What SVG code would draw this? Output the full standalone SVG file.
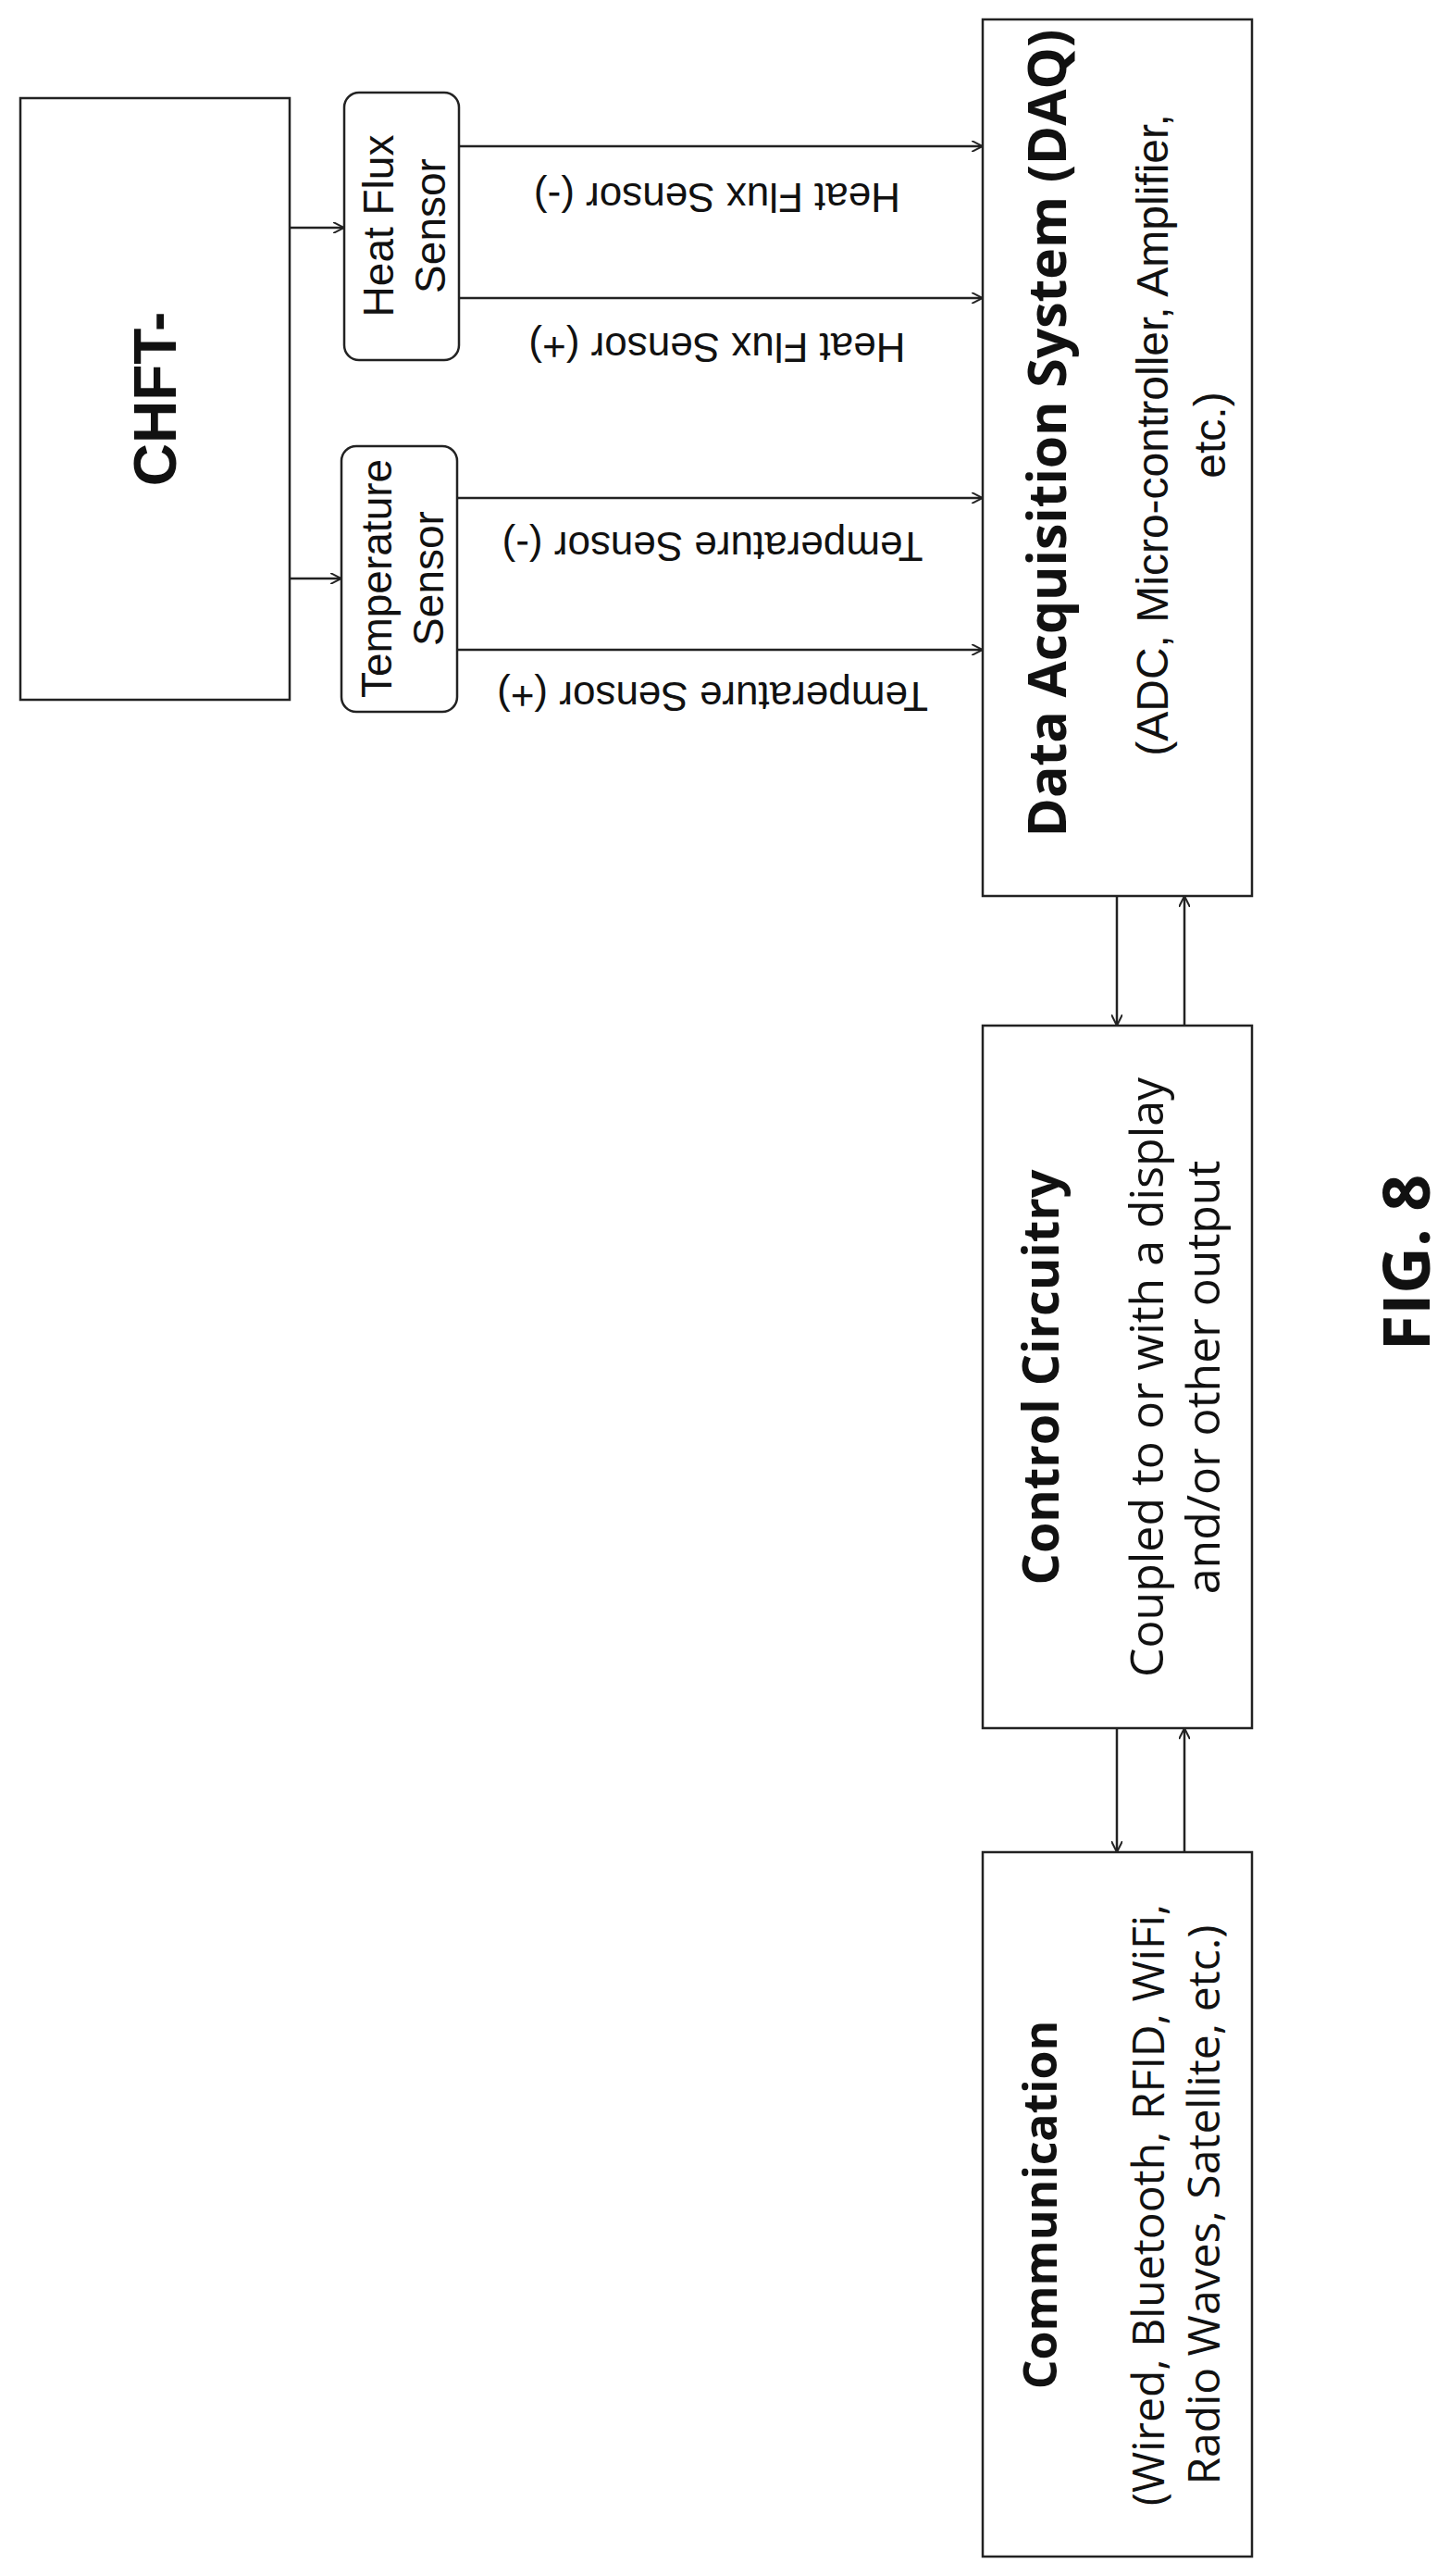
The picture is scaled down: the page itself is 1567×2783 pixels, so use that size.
<svg xmlns="http://www.w3.org/2000/svg" width="1567" height="2783" viewBox="0 0 1567 2783">
<style>
.box{fill:#fff;stroke:#222;stroke-width:2.5}
.ln{stroke:#222;stroke-width:2.5;fill:none;marker-end:url(#ah)}
.t{font-family:"Liberation Sans",Arial,sans-serif;fill:#111;text-anchor:middle}
.o{font-family:"Open Sans","Liberation Sans",sans-serif;fill:#111;text-anchor:middle}
</style>
<defs><marker id="ah" viewBox="0 0 12 12" refX="11" refY="6" markerWidth="12" markerHeight="12" markerUnits="userSpaceOnUse" orient="auto"><path d="M0,0 L12,6 L0,12" fill="none" stroke="#222" stroke-width="2"/></marker></defs>
<rect width="1567" height="2783" fill="#fff"/>
<g id="chft"><rect class="box" x="22" y="106" width="291" height="650"/>
<text class="t" font-weight="bold" font-size="64" transform="translate(190,431) rotate(-90)">CHFT-</text></g>
<g id="hfs"><rect class="box" x="372" y="100" width="124" height="289" rx="16"/>
<text class="t" font-size="46" transform="translate(425,244) rotate(-90)">Heat Flux</text>
<text class="t" font-size="46" transform="translate(481,244) rotate(-90)">Sensor</text></g>
<g id="ts"><rect class="box" x="369" y="482" width="125" height="287" rx="16"/>
<text class="t" font-size="46" transform="translate(423,625) rotate(-90)">Temperature</text>
<text class="t" font-size="46" transform="translate(479,625) rotate(-90)">Sensor</text></g>
<g id="daq"><rect class="box" x="1062" y="21" width="291" height="947"/>
<text class="o" font-weight="bold" font-size="57" transform="translate(1152,468) rotate(-90)">Data Acquisition System (DAQ)</text>
<text class="t" font-size="48" transform="translate(1262,470) rotate(-90)">(ADC, Micro-controller, Amplifier,</text>
<text class="t" font-size="48" transform="translate(1324,470) rotate(-90)">etc.)</text></g>
<g id="control"><rect class="box" x="1062" y="1108" width="291" height="759"/>
<text class="o" font-weight="bold" font-size="54" transform="translate(1144,1488) rotate(-90)">Control Circuitry</text>
<text class="o" font-size="50" transform="translate(1257,1488) rotate(-90)">Coupled to or with a display</text>
<text class="o" font-size="50" transform="translate(1318,1488) rotate(-90)">and/or other output</text></g>
<g id="comm"><rect class="box" x="1062" y="2001" width="291" height="761"/>
<text class="o" font-weight="bold" font-size="50" transform="translate(1142,2382) rotate(-90)">Communication</text>
<text class="o" font-size="48" transform="translate(1258,2382) rotate(-90)">(Wired, Bluetooth, RFID, WiFi,</text>
<text class="o" font-size="48" transform="translate(1318,2382) rotate(-90)">Radio Waves, Satellite, etc.)</text></g>
<g id="connectors">
<line class="ln" x1="313" y1="246" x2="371" y2="246"/>
<line class="ln" x1="313" y1="625" x2="368" y2="625"/>
<line class="ln" x1="496" y1="158" x2="1061" y2="158"/>
<line class="ln" x1="496" y1="322" x2="1061" y2="322"/>
<line class="ln" x1="494" y1="538" x2="1061" y2="538"/>
<line class="ln" x1="494" y1="702" x2="1061" y2="702"/>
<line class="ln" x1="1207" y1="968" x2="1207" y2="1107"/>
<line class="ln" x1="1280" y1="1108" x2="1280" y2="969"/>
<line class="ln" x1="1207" y1="1867" x2="1207" y2="2000"/>
<line class="ln" x1="1280" y1="2001" x2="1280" y2="1868"/>
<text class="t" font-size="44" transform="translate(775,198) rotate(180)">Heat Flux Sensor (-)</text>
<text class="t" font-size="44" transform="translate(775,360) rotate(180)">Heat Flux Sensor (+)</text>
<text class="t" font-size="44" transform="translate(770,575) rotate(180)">Temperature Sensor (-)</text>
<text class="t" font-size="44" transform="translate(770,737) rotate(180)">Temperature Sensor (+)</text>
</g>
<text class="o" font-weight="bold" font-size="70" transform="translate(1545,1364) rotate(-90)">FIG. 8</text>
</svg>
